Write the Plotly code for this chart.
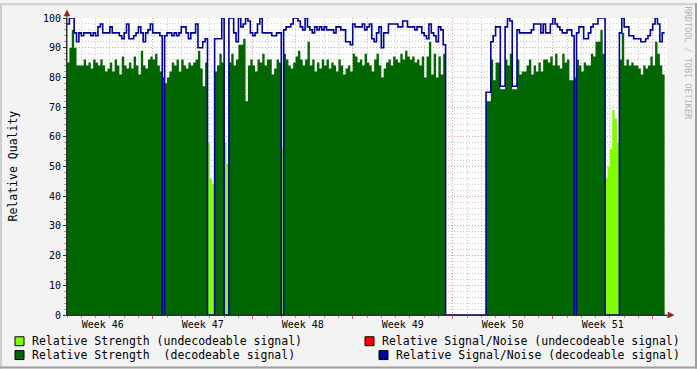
import plotly.graph_objects as go
import pandas as pd

# ---- data (4-hour samples starting Tue 2012-11-13 00:00) ----
start_time = "2012-11-13 00:00"
step_hours = 4

strength_decodeable = [
    85, 90, 96, 90, 84, 84, 84, 86, 84, 85,
    83, 86, 85, 84, 86, 84, 82, 83, 85, 82,
    86, 84, 81, 87, 84, 83, 85, 83, 87, 84,
    81, 89, 84, 83, 86, 87, 86, 88, 84, 82,
    80, 78, 80, 82, 85, 84, 86, 82, 86, 84,
    83, 85, 84, 85, 86, 89, 83, 77, 85, 0,
    0, 0, 82, 84, 88, 85, 0, 0, 85, 88,
    84, 86, 91, 91, 93, 72, 84, 86, 84, 82,
    86, 85, 88, 84, 86, 86, 81, 83, 86, 85,
    0, 88, 86, 84, 83, 85, 87, 89, 86, 84,
    86, 92, 84, 86, 82, 85, 83, 86, 84, 86,
    83, 85, 84, 82, 86, 84, 81, 83, 84, 82,
    88, 87, 85, 86, 84, 88, 85, 84, 82, 86,
    88, 84, 80, 83, 85, 86, 84, 87, 86, 85,
    88, 86, 89, 87, 86, 87, 85, 86, 84, 87,
    80, 87, 92, 81, 88, 80, 87, 81, 88, 0,
    0, 0, 0, 0, 0, 0, 0, 0, 0, 0,
    0, 0, 0, 0, 0, 0, 72, 72, 86, 79,
    85, 85, 76, 76, 86, 84, 88, 76, 76, 86,
    81, 82, 82, 84, 86, 81, 84, 82, 85, 82,
    86, 86, 85, 87, 84, 88, 84, 83, 88, 85,
    86, 79, 79, 80, 86, 84, 82, 85, 84, 84,
    88, 87, 92, 92, 96, 88, 0, 0, 0, 0,
    0, 0, 86, 95, 84, 86, 84, 85, 84, 84,
    83, 81, 84, 83, 84, 87, 84, 92, 88, 84,
    81, 84,
]

strength_undecodeable = [
    0, 0, 0, 0, 0, 0, 0, 0, 0, 0,
    0, 0, 0, 0, 0, 0, 0, 0, 0, 0,
    0, 0, 0, 0, 0, 0, 0, 0, 0, 0,
    0, 0, 0, 0, 0, 0, 0, 0, 0, 0,
    0, 0, 0, 0, 0, 0, 0, 0, 0, 0,
    0, 0, 0, 0, 0, 0, 0, 0, 0, 58,
    46, 44, 0, 0, 0, 0, 58, 51, 0, 0,
    0, 0, 0, 0, 0, 0, 0, 0, 0, 0,
    0, 0, 0, 0, 0, 0, 0, 0, 0, 0,
    56, 0, 0, 0, 0, 0, 0, 0, 0, 0,
    0, 0, 0, 0, 0, 0, 0, 0, 0, 0,
    0, 0, 0, 0, 0, 0, 0, 0, 0, 0,
    0, 0, 0, 0, 0, 0, 0, 0, 0, 0,
    0, 0, 0, 0, 0, 0, 0, 0, 0, 0,
    0, 0, 0, 0, 0, 0, 0, 0, 0, 0,
    0, 0, 0, 0, 0, 0, 0, 0, 0, 0,
    0, 0, 0, 0, 0, 0, 0, 0, 0, 0,
    0, 0, 0, 0, 0, 0, 0, 0, 0, 0,
    0, 0, 0, 0, 0, 0, 0, 0, 0, 0,
    0, 0, 0, 0, 0, 0, 0, 0, 0, 0,
    0, 0, 0, 0, 0, 0, 0, 0, 0, 0,
    0, 0, 0, 0, 0, 0, 0, 0, 0, 0,
    0, 0, 0, 0, 0, 0, 46, 50, 56, 69,
    66, 58, 0, 0, 0, 0, 0, 0, 0, 0,
    0, 0, 0, 0, 0, 0, 0, 0, 0, 0,
    0, 0,
]

snr_decodeable = [
    98, 100, 100, 95, 92, 95, 94, 95, 95, 95,
    94, 95, 94, 97, 98, 95, 95, 95, 97, 95,
    95, 95, 94, 93, 95, 98, 93, 93, 94, 95,
    97, 95, 92, 95, 96, 98, 95, 95, 95, 94,
    0, 94, 95, 95, 94, 95, 94, 95, 97, 97,
    95, 93, 95, 95, 98, 90, 90, 92, 93, 0,
    0, 0, 93, 93, 93, 100, 0, 0, 100, 100,
    95, 92, 100, 97, 98, 100, 99, 95, 94, 95,
    98, 100, 95, 95, 95, 95, 94, 94, 95, 95,
    0, 96, 97, 97, 98, 100, 100, 99, 97, 96,
    100, 97, 96, 95, 97, 96, 97, 96, 97, 96,
    96, 96, 95, 97, 97, 96, 96, 92, 92, 91,
    98, 97, 97, 97, 98, 96, 97, 98, 93, 92,
    95, 97, 90, 95, 95, 98, 98, 98, 98, 97,
    97, 99, 99, 97, 97, 97, 96, 97, 97, 95,
    94, 93, 98, 95, 94, 92, 97, 96, 91, 0,
    0, 0, 0, 0, 0, 0, 0, 0, 0, 0,
    0, 0, 0, 0, 0, 0, 75, 75, 92, 94,
    97, 97, 77, 77, 97, 100, 99, 77, 77, 96,
    95, 95, 95, 95, 95, 96, 98, 98, 98, 95,
    98, 95, 95, 98, 100, 98, 97, 96, 95, 95,
    96, 96, 94, 0, 95, 97, 97, 93, 93, 95,
    97, 98, 98, 100, 100, 100, 0, 0, 0, 0,
    0, 0, 95, 100, 97, 97, 94, 94, 93, 93,
    93, 92, 92, 93, 94, 96, 98, 100, 98, 92,
    95, 95,
]

x_range = ["2012-11-13 00:00", "2012-12-25 00:00"]
week_start = "2012-11-19"  # a Monday

legend_labels = [
    "Relative Strength (undecodeable signal)",
    "Relative Strength\u00a0 (decodeable signal)",
    "Relative Signal/Noise (undecodeable signal)",
    "Relative Signal/Noise (decodeable signal)",
]

# ---- style ----
C_LIGHT = "#7FFF00"
C_DARK = "#006600"
C_RED = "#FF0000"
C_BLUE = "#000099"
FONT = "DejaVu Sans Mono"

times = pd.date_range(start_time, periods=len(strength_decodeable), freq=f"{step_hours}h")

fig = go.Figure()
fig.add_trace(go.Scatter(x=times, y=strength_undecodeable, mode="lines", line=dict(width=0, shape="hv"),
                         fill="tozeroy", fillcolor=C_LIGHT, showlegend=False, hoverinfo="skip"))
fig.add_trace(go.Scatter(x=times, y=strength_decodeable, mode="lines", line=dict(width=0, shape="hv"),
                         fill="tozeroy", fillcolor=C_DARK, showlegend=False, hoverinfo="skip"))
fig.add_trace(go.Scatter(x=times, y=snr_decodeable, mode="lines", line=dict(width=1.6, shape="hv", color=C_BLUE),
                         showlegend=False, hoverinfo="skip"))

L, T, W, H = 67, 15, 600, 300
FW, FH = 697, 369


def px(xp):
    return (xp - L) / W


def py(yp):
    return (T + H - yp) / H


GRID = "rgba(130,130,130,0.42)"
MGRID = "rgba(210,80,80,0.55)"

fig.update_xaxes(
    type="date", range=x_range, layer="above traces",
    showgrid=True, gridcolor=MGRID, griddash="1px,2px", gridwidth=1,
    tick0=week_start, dtick=7 * 86400000, ticklabelmode="period", tickformat="Week %V",
    ticks="outside", ticklen=3, tickcolor="rgba(200,60,60,0.8)", ticklabelstandoff=-3,
    tickfont=dict(family=FONT, size=10, color="#000"),
    minor=dict(dtick=86400000, showgrid=True, gridcolor=GRID, griddash="1px,2px",
               ticks="outside", ticklen=2, tickcolor="rgba(120,120,120,0.7)"),
    showline=True, linecolor="#333", linewidth=1, zeroline=False, fixedrange=True,
)
fig.update_yaxes(
    range=[0, 100], layer="above traces",
    tick0=0, dtick=10, showgrid=True, gridcolor=MGRID, griddash="1px,2px", gridwidth=1,
    ticks="outside", ticklen=3, tickcolor="#333",
    tickfont=dict(family=FONT, size=10, color="#000"),
    minor=dict(dtick=2, showgrid=True, gridcolor=GRID, griddash="1px,2px",
               ticks="outside", ticklen=2, tickcolor="rgba(120,120,120,0.7)"),
    showline=True, linecolor="#333", linewidth=1, zeroline=False, fixedrange=True,
)

shapes = []
# frame shading
shapes.append(dict(type="rect", xref="paper", yref="paper", x0=px(0), x1=px(FW), y0=py(0), y1=py(2),
                   fillcolor="#CFCFCF", line=dict(width=0), layer="below"))
shapes.append(dict(type="rect", xref="paper", yref="paper", x0=px(0), x1=px(2), y0=py(0), y1=py(FH),
                   fillcolor="#CFCFCF", line=dict(width=0), layer="below"))
shapes.append(dict(type="rect", xref="paper", yref="paper", x0=px(FW - 2), x1=px(FW), y0=py(0), y1=py(FH),
                   fillcolor="#9E9E9E", line=dict(width=0), layer="below"))
shapes.append(dict(type="rect", xref="paper", yref="paper", x0=px(0), x1=px(FW), y0=py(FH - 2), y1=py(FH),
                   fillcolor="#9E9E9E", line=dict(width=0), layer="below"))
# axis extensions and arrows
shapes.append(dict(type="line", xref="paper", yref="paper", x0=px(L), x1=px(L), y0=py(T + H), y1=py(10),
                   line=dict(color="#333", width=1)))
shapes.append(dict(type="line", xref="paper", yref="paper", x0=px(L), x1=px(670), y0=0, y1=0,
                   line=dict(color="#333", width=1)))
ARROW = "#A02020"
shapes.append(dict(type="path", xref="paper", yref="paper",
                   path=f"M {px(L-3)} {py(13)} L {px(L+3)} {py(13)} L {px(L)} {py(7)} Z",
                   fillcolor=ARROW, line=dict(color=ARROW, width=0.5)))
shapes.append(dict(type="path", xref="paper", yref="paper",
                   path=f"M {px(668)} {py(312)} L {px(668)} {py(318)} L {px(674)} {py(315)} Z",
                   fillcolor=ARROW, line=dict(color=ARROW, width=0.5)))

# legend boxes
boxes = [(15, 337, C_LIGHT), (15, 351, C_DARK), (365, 337, C_RED), (379, 351, C_BLUE)]
for bx, by, col in boxes:
    shapes.append(dict(type="rect", xref="paper", yref="paper", x0=px(bx), x1=px(bx + 9),
                       y0=py(by + 9), y1=py(by), fillcolor=col, line=dict(color="#000", width=1)))

annotations = []
text_pos = [(30, 341.5), (30, 355.5), (380, 341.5), (394, 355.5)]
for (tx, ty), lab in zip(text_pos, legend_labels):
    annotations.append(dict(xref="paper", yref="paper", x=px(tx), y=py(ty), text=lab, showarrow=False,
                            xanchor="left", yanchor="middle", font=dict(family=FONT, size=11.5, color="#000")))
annotations.append(dict(xref="paper", yref="paper", x=px(12), y=py(165), text="Relative Quality",
                        textangle=-90, showarrow=False, xanchor="center", yanchor="middle",
                        font=dict(family=FONT, size=11.5, color="#000")))
annotations.append(dict(xref="paper", yref="paper", x=px(688), y=py(60), text="RRDTOOL / TOBI OETIKER",
                        textangle=90, showarrow=False, xanchor="center", yanchor="middle",
                        font=dict(family=FONT, size=8.5, color="#B4B4B4")))

fig.update_layout(
    width=FW, height=FH, autosize=False,
    margin=dict(l=L, r=FW - L - W, t=T, b=FH - T - H, pad=0),
    paper_bgcolor="#F3F3F3", plot_bgcolor="#FFFFFF",
    shapes=shapes, annotations=annotations, showlegend=False,
    font=dict(family=FONT),
)

fig.write_html("out.html", config={"displayModeBar": False},
               post_script="document.body.style.margin='0';document.body.style.overflow='hidden';")
